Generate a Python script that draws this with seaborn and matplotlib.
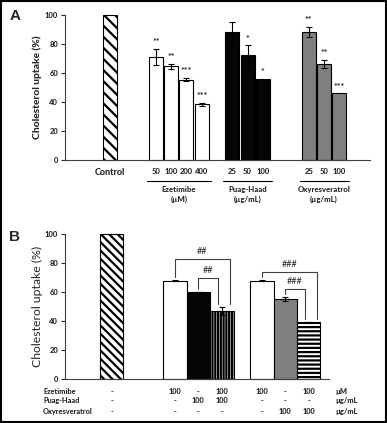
import matplotlib
matplotlib.use("Agg")
import matplotlib.pyplot as plt
from matplotlib.patches import Rectangle
import pandas as pd
import seaborn as sns

# ---- Panel A data ----
a_groups = ["Control", "Ezetimibe\n(µM)", "Puag-Haad\n(µg/mL)", "Oxyresveratrol\n(µg/mL)"]
a_doses = [["Control"], ["50", "100", "200", "400"], ["25", "50", "100"], ["25", "50", "100"]]
a_values = [[100], [71, 64.5, 55.5, 38.5], [88.5, 72.5, 56], [88.3, 66.5, 46]]
a_errors = [[0], [5.8, 1.8, 1.0, 1.0], [7, 6.5, 0], [3.5, 2.8, 0]]
a_stars = [[""], ["**", "**", "***", "***"], ["", "*", "*"], ["**", "**", "***"]]

# ---- Panel B data ----
b_values = [100, 67.6, 59.7, 46.8, 67.6, 55, 39]
b_errors = [0, 0.4, 0, 2.5, 0.4, 1.2, 0.4]
b_rows = ["Ezetimibe", "Puag-Haad", "Oxyresveratrol"]
b_units = ["µM", "µg/mL", "µg/mL"]
b_table = [["-", "100", "-", "100", "100", "-", "100"],
           ["-", "-", "100", "100", "-", "-", "-"],
           ["-", "-", "-", "-", "-", "100", "100"]]
# brackets: (left bar, right bar, height, label)
b_brackets = [(1, 3, 82.4, "##"), (2, 3, 69.5, "##"),
              (4, 6, 73.8, "###"), (5, 6, 61.7, "###")]

sns.set_style("ticks")
plt.rcParams["font.family"] = ["Lato", "DejaVu Sans"]
plt.rcParams["hatch.linewidth"] = 1.6
BOLD = 900

fig = plt.figure(figsize=(3.87, 4.23), dpi=100)
axA = fig.add_axes([0.168, 0.6217, 0.788, 0.3428])
axB = fig.add_axes([0.168, 0.104, 0.682, 0.3435])

# ---------------- Panel A ----------------
starts = [0, 3, 8, 13]
posA, valA, errA, starA, labA, colA = [], [], [], [], [], []
group_colors = ["white", "white", "#050505", "#7f7f7f"]
for g, s in enumerate(starts):
    for i, v in enumerate(a_values[g]):
        posA.append(s + i)
        valA.append(v)
        errA.append(a_errors[g][i])
        starA.append(a_stars[g][i])
        labA.append(a_doses[g][i])
        colA.append(group_colors[g])

df_a = pd.DataFrame({"pos": posA, "value": valA})
sns.barplot(data=df_a, x="pos", y="value", native_scale=True, width=0.92,
            color="white", saturation=1, edgecolor="black", linewidth=0.8,
            errorbar=None, ax=axA)
for k, p in enumerate(axA.patches):
    p.set_facecolor(colA[k])
    p.set_clip_on(False)
    if k == 0:
        p.set_hatch("\\\\\\")

pe = [p for p, e in zip(posA, errA) if e > 0]
ve = [v for v, e in zip(valA, errA) if e > 0]
ee = [e for e in errA if e > 0]
axA.errorbar(pe, ve, yerr=ee, fmt="none", ecolor="black", elinewidth=0.8,
             capsize=2, capthick=0.8)
for p, v, e, s in zip(posA, valA, errA, starA):
    if s:
        axA.annotate(s, (p, v + e), xytext=(0, 1.2), textcoords="offset points",
                     ha="center", va="bottom", fontsize=6.5, fontweight="bold")

axA.set_xlim(-2.94, 17.0)
axA.set_ylim(0, 100)
axA.set_yticks(range(0, 101, 20))
axA.set_yticklabels([str(t) for t in range(0, 101, 20)], fontweight=BOLD)
axA.set_xticks(posA)
axA.set_xticklabels(labA, fontweight=BOLD)
axA.tick_params(axis="x", length=0, pad=6, labelsize=5.5)
axA.get_xticklabels()[0].set_fontsize(6.5)
axA.tick_params(axis="y", length=3, width=0.8, labelsize=5.5, pad=2)
axA.set_xlabel("")
axA.set_ylabel("Cholesterol uptake (%)", fontsize=7.4, fontweight=BOLD)
axA.yaxis.set_label_coords(-0.076, 0.5)

trA = axA.get_xaxis_transform()
for g in range(1, 4):
    s = starts[g]
    n = len(a_values[g])
    axA.plot([s - 0.6, s + n - 1 + 0.6], [-0.143, -0.143], color="black",
             lw=0.8, transform=trA, clip_on=False)
    axA.text(s + (n - 1) / 2, -0.18, a_groups[g], transform=trA, ha="center",
             va="top", fontsize=5.6, fontweight=BOLD, linespacing=1.45)

# ---------------- Panel B ----------------
posB = [0, 2.7, 3.7, 4.7, 6.4, 7.4, 8.4]
colB = ["white", "white", "#050505", "white", "white", "#7f7f7f", "white"]
hatchB = ["\\\\\\\\", None, None, "||||||", None, None, "----"]
df_b = pd.DataFrame({"pos": posB, "value": b_values})
sns.barplot(data=df_b, x="pos", y="value", native_scale=True, width=1.0,
            color="white", saturation=1, edgecolor="black", linewidth=0.8,
            errorbar=None, ax=axB)
for k, p in enumerate(axB.patches):
    p.set_facecolor(colB[k])
    p.set_clip_on(False)
    if hatchB[k]:
        p.set_hatch(hatchB[k])
axB.errorbar(posB[1:], b_values[1:], yerr=b_errors[1:], fmt="none", ecolor="black",
             elinewidth=0.8, capsize=2, capthick=0.8)

right_off = {True: 0.34, False: -0.18}
for li, ri, h, lab in b_brackets:
    outer = (ri - li) == 2
    xl = posB[li]
    xr = posB[ri] + right_off[outer]
    yl = b_values[li] + b_errors[li] + 2
    yr = b_values[ri] + b_errors[ri] + 2
    axB.plot([xl, xl, xr, xr], [yl, h, h, yr], color="#404040", lw=0.8,
             clip_on=False)
    axB.text((xl + xr) / 2, h + 2, lab, ha="center", va="bottom", fontsize=6.5)

axB.set_xlim(-1.98, 9.26)
axB.set_ylim(0, 100)
axB.set_yticks(range(0, 101, 20))
axB.set_yticklabels([str(t) for t in range(0, 101, 20)], fontweight=BOLD)
axB.set_xticks([])
axB.tick_params(axis="y", length=3, width=0.8, labelsize=5.5, pad=2)
axB.set_xlabel("")
axB.set_ylabel("Cholesterol uptake (%)", fontsize=8.8, fontweight="normal")
axB.yaxis.set_label_coords(-0.083, 0.5)

trB = axB.get_xaxis_transform()
row_y = [-0.087, -0.151, -0.225]
for r in range(3):
    fig.text(43 / 387, 0.104 + 0.3435 * row_y[r], b_rows[r], ha="left",
             va="center", fontsize=5.3, fontweight=BOLD)
    for c in range(7):
        axB.text(posB[c], row_y[r], b_table[r][c], transform=trB, ha="center",
                 va="center", fontsize=5.3, fontweight=BOLD)
    fig.text(335 / 387, 0.104 + 0.3435 * row_y[r], b_units[r], ha="left",
             va="center", fontsize=5.3, fontweight=BOLD)

for ax in (axA, axB):
    sns.despine(ax=ax)
    for sp in ("left", "bottom"):
        ax.spines[sp].set_linewidth(0.8)
        ax.spines[sp].set_color("#404040")

fig.text(15 / 387, 1 - 15.5 / 423, "A", fontsize=11, fontweight="bold",
         family="Liberation Sans", ha="center", va="center")
fig.text(15 / 387, 1 - 237 / 423, "B", fontsize=11, fontweight="bold",
         family="Liberation Sans", ha="center", va="center")
fig.patches.append(Rectangle((0.003, 0.003), 0.994, 0.994, transform=fig.transFigure,
                             fill=False, lw=1.5, ec="black"))

fig.savefig("out.png", dpi=100)
